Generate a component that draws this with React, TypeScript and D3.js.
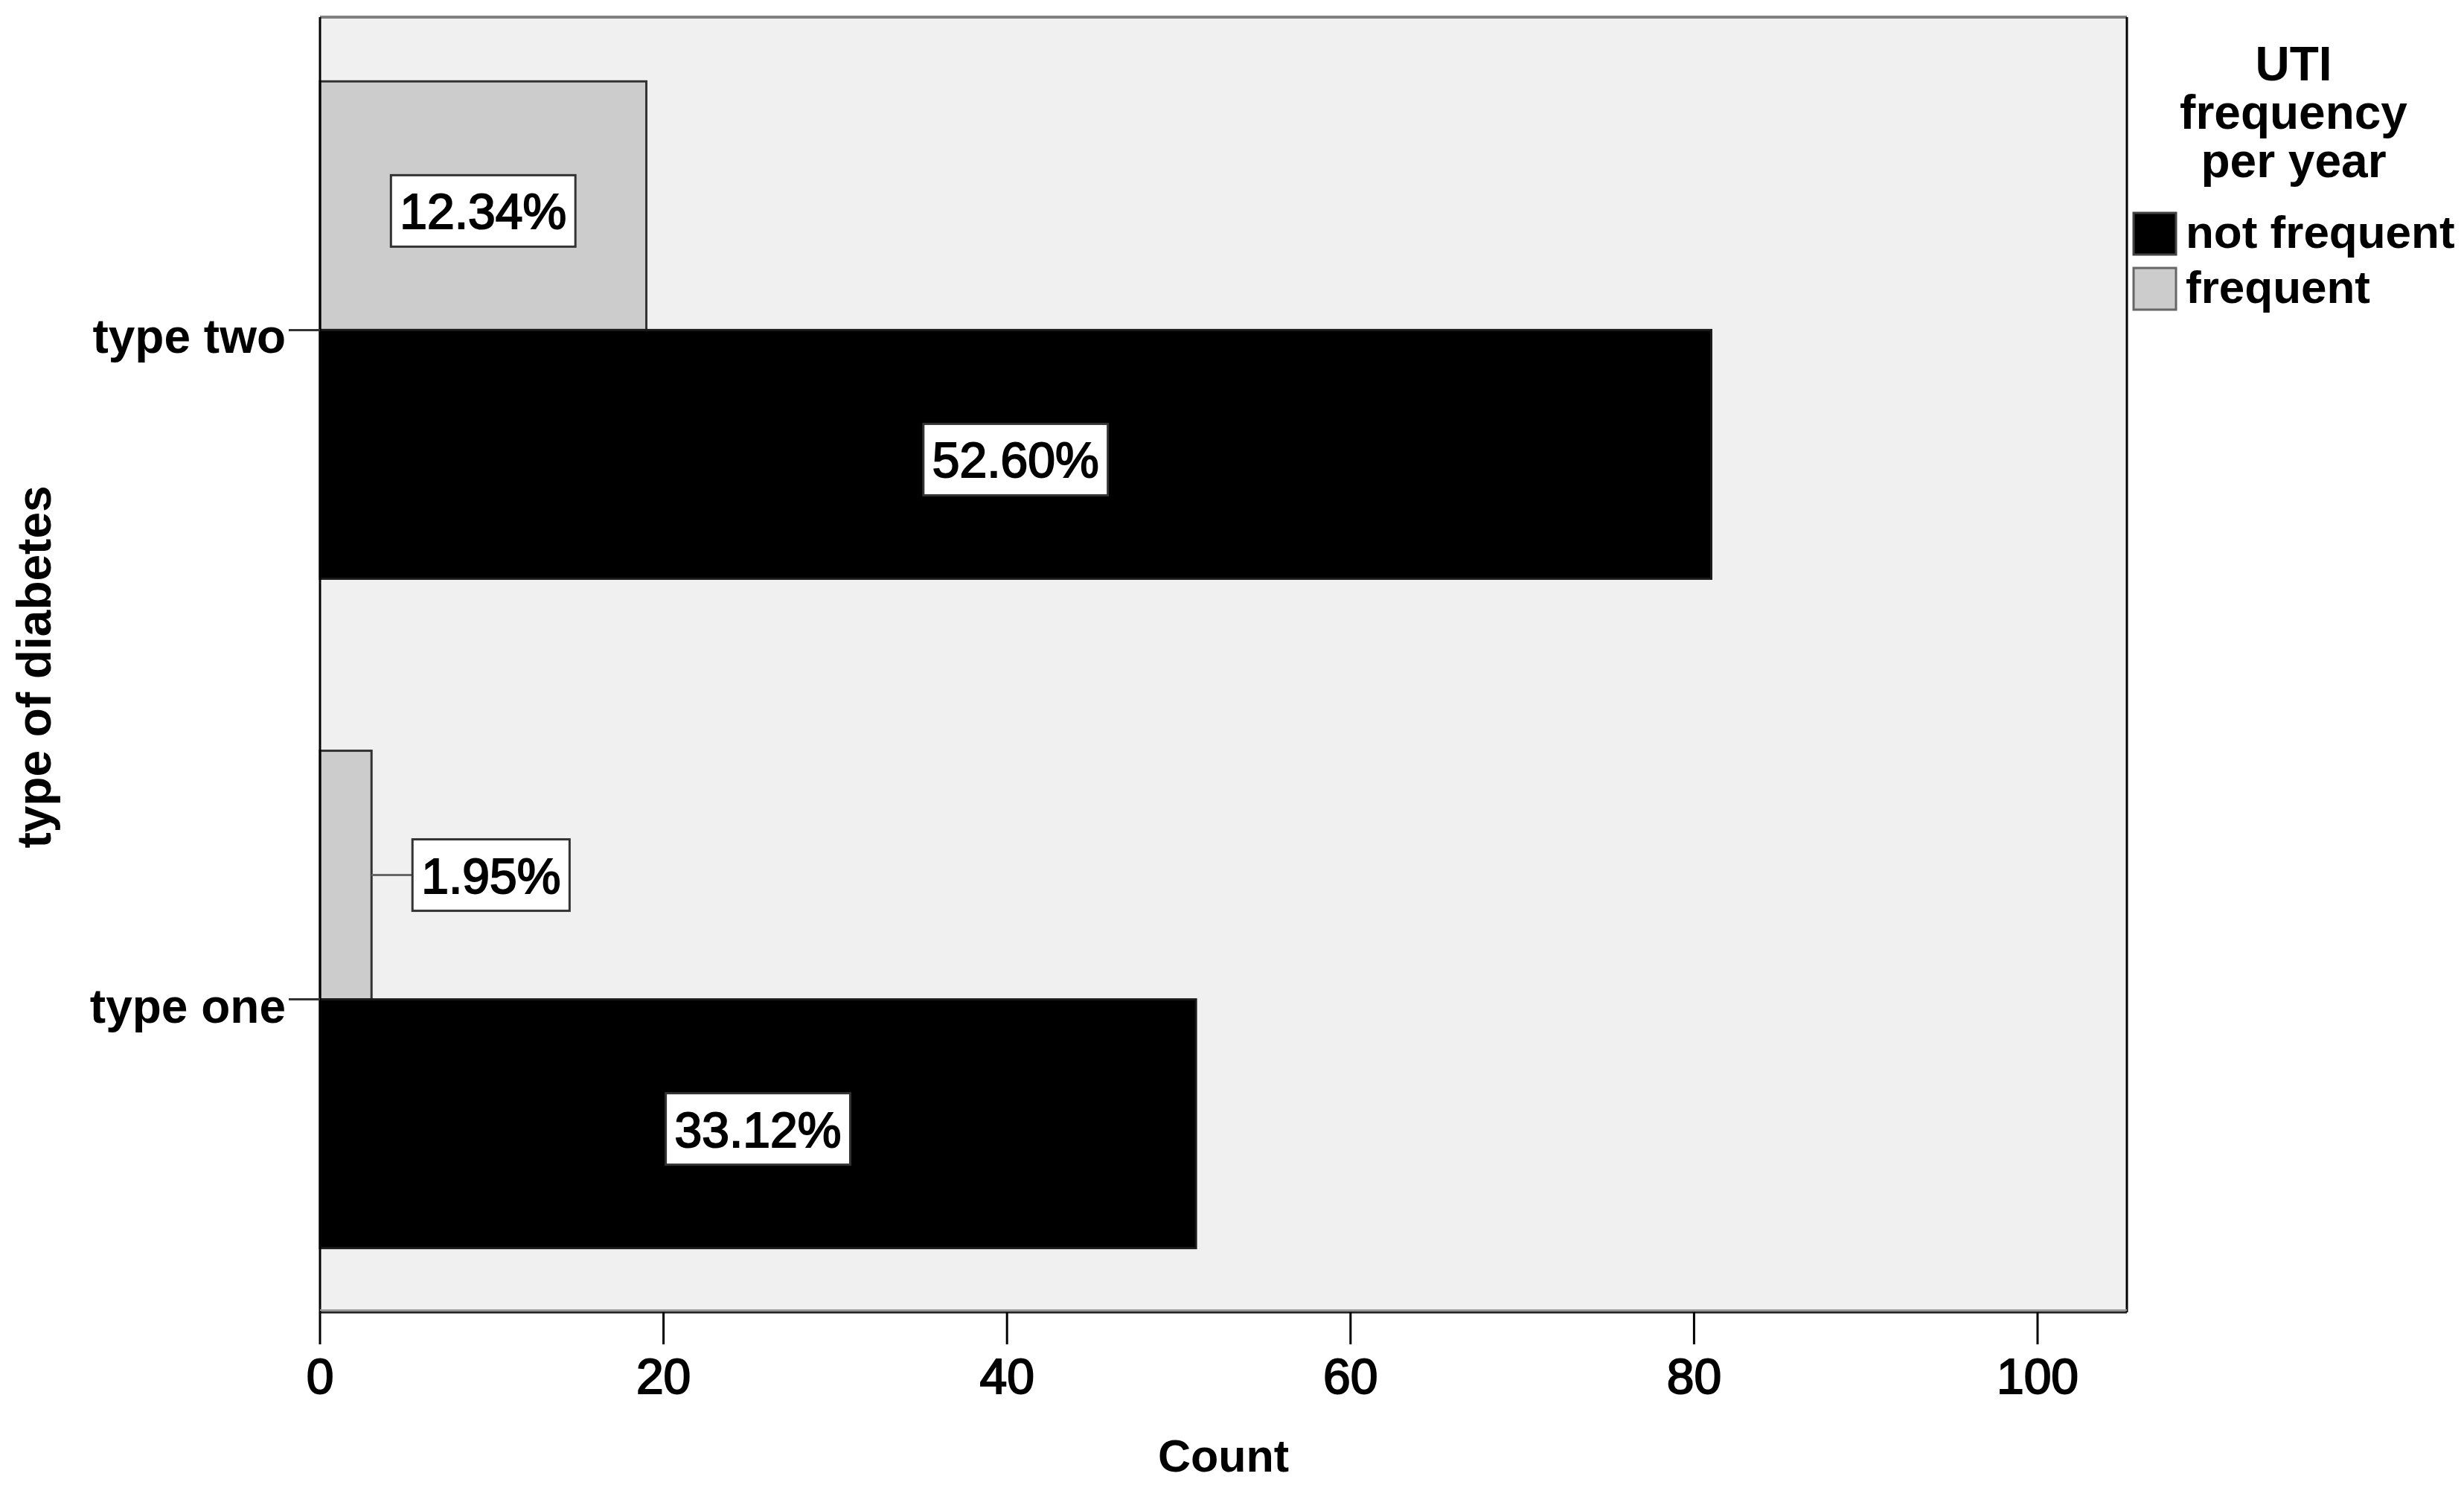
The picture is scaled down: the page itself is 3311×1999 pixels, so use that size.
import React, { useEffect, useRef } from 'react';
import * as d3 from 'd3';

const categories = ['type two', 'type one'];
const seriesNames = ['not frequent', 'frequent'];
const notFrequentCounts = [81, 51];
const frequentCounts = [19, 3];
const notFrequentLabels = ['52.60%', '33.12%'];
const frequentLabels = ['12.34%', '1.95%'];
const xTicks = [0, 20, 40, 60, 80, 100];
const legendTitle = ['UTI', 'frequency', 'per year'];

const FONT = '"Liberation Sans", Arial, sans-serif';
const seriesFill: Record<string, string> = { 'not frequent': '#000000', frequent: '#cccccc' };
const seriesStroke: Record<string, string> = { 'not frequent': '#1a1a1a', frequent: '#333333' };

const App = () => {
  const svgRef = useRef<SVGSVGElement>(null);
  const width = 3311;
  const height = 1999;
  const margin = { left: 430, right: 453, top: 23, bottom: 236 };

  useEffect(() => {
    const svg = d3.select(svgRef.current);
    svg.selectAll('*').remove();

    const x0 = margin.left;
    const x1 = width - margin.right;
    const y0 = margin.top;
    const y1 = height - margin.bottom;

    const xScale = d3.scaleLinear().domain([0, 105.2]).range([x0, x1]);
    const yScale = d3.scaleBand<string>()
      .domain(categories)
      .range([y0, y1])
      .paddingInner(0.257)
      .paddingOuter(0.096);
    // frequent (gray) sits above not frequent (black) inside each category
    const inner = d3.scaleBand<string>()
      .domain(['frequent', 'not frequent'])
      .range([0, yScale.bandwidth()]);

    // plot background
    svg.append('rect')
      .attr('x', x0).attr('y', y0)
      .attr('width', x1 - x0).attr('height', y1 - y0)
      .attr('fill', '#f0f0f0');

    const rows = categories.flatMap((c, i) => [
      { cat: c, series: 'frequent', value: frequentCounts[i], label: frequentLabels[i] },
      { cat: c, series: 'not frequent', value: notFrequentCounts[i], label: notFrequentLabels[i] },
    ]);

    svg.selectAll('rect.bar')
      .data(rows)
      .enter()
      .append('rect')
      .attr('class', 'bar')
      .attr('x', xScale(0))
      .attr('y', d => (yScale(d.cat) as number) + (inner(d.series) as number))
      .attr('width', d => xScale(d.value) - xScale(0))
      .attr('height', inner.bandwidth())
      .attr('fill', d => seriesFill[d.series])
      .attr('stroke', d => seriesStroke[d.series])
      .attr('stroke-width', 3);

    // frame
    svg.append('line').attr('x1', x0).attr('x2', x1).attr('y1', y0).attr('y2', y0)
      .attr('stroke', '#808080').attr('stroke-width', 4);
    svg.append('line').attr('x1', x1).attr('x2', x1).attr('y1', y0).attr('y2', y1)
      .attr('stroke', '#000').attr('stroke-width', 3);
    svg.append('line').attr('x1', x0).attr('x2', x0).attr('y1', y0).attr('y2', y1)
      .attr('stroke', '#000').attr('stroke-width', 3);
    svg.append('line').attr('x1', x0).attr('x2', x1).attr('y1', y1 - 3).attr('y2', y1 - 3)
      .attr('stroke', '#9a9a9a').attr('stroke-width', 2);
    svg.append('line').attr('x1', x0).attr('x2', x1).attr('y1', y1).attr('y2', y1)
      .attr('stroke', '#222').attr('stroke-width', 3);

    // value labels
    rows.forEach(d => {
      const barY = (yScale(d.cat) as number) + (inner(d.series) as number);
      const cy = barY + inner.bandwidth() / 2;
      const barEnd = xScale(d.value);
      const g = svg.append('g');
      const box = g.append('rect');
      const txt = g.append('text')
        .attr('font-family', FONT)
        .attr('font-size', 66)
        .attr('fill', '#000')
        .attr('stroke', '#000')
        .attr('stroke-width', 2)
        .attr('text-anchor', 'middle')
        .text(d.label);
      const tw = (txt.node() as SVGTextElement).getComputedTextLength();
      const bw = tw + 24;
      const bh = 96;
      const outside = barEnd - xScale(0) < bw + 20;
      const cx = outside ? barEnd + 55 + bw / 2 : (xScale(0) + barEnd) / 2;
      const by = outside ? cy : cy + 7;
      if (outside) {
        svg.insert('line', 'g')
          .attr('x1', barEnd).attr('x2', barEnd + 55)
          .attr('y1', cy).attr('y2', cy)
          .attr('stroke', '#666').attr('stroke-width', 3);
      }
      box.attr('x', cx - bw / 2).attr('y', by - bh / 2)
        .attr('width', bw).attr('height', bh)
        .attr('fill', '#fff').attr('stroke', '#333').attr('stroke-width', 3);
      txt.attr('x', cx).attr('y', by + 24);
    });

    // x axis ticks
    const xAxis = svg.append('g');
    xTicks.forEach(t => {
      xAxis.append('line')
        .attr('x1', xScale(t)).attr('x2', xScale(t))
        .attr('y1', y1).attr('y2', y1 + 43)
        .attr('stroke', '#000').attr('stroke-width', 3);
      xAxis.append('text')
        .attr('x', xScale(t)).attr('y', y1 + 109)
        .attr('text-anchor', 'middle')
        .attr('font-family', FONT).attr('font-size', 66)
        .attr('fill', '#000')
        .attr('stroke', '#000')
        .attr('stroke-width', 2)
        .text(t);
    });

    // y axis categories
    categories.forEach(c => {
      const cy = (yScale(c) as number) + yScale.bandwidth() / 2;
      svg.append('line')
        .attr('x1', x0 - 42).attr('x2', x0)
        .attr('y1', cy).attr('y2', cy)
        .attr('stroke', '#333').attr('stroke-width', 3);
      svg.append('text')
        .attr('x', x0 - 46).attr('y', cy + 31)
        .attr('text-anchor', 'end')
        .attr('font-family', FONT).attr('font-size', 64).attr('font-weight', 'bold')
        .attr('fill', '#000')
        .text(c);
    });

    // axis titles
    svg.append('text')
      .attr('x', (x0 + x1) / 2).attr('y', 1977)
      .attr('text-anchor', 'middle')
      .attr('font-family', FONT).attr('font-size', 61).attr('font-weight', 'bold')
      .text('Count');

    svg.append('text')
      .attr('transform', 'rotate(-90)')
      .attr('x', -896).attr('y', 68)
      .attr('text-anchor', 'middle')
      .attr('font-family', FONT).attr('font-size', 64).attr('font-weight', 'bold')
      .text('type of diabetes');

    // legend
    const legend = svg.append('g');
    legendTitle.forEach((line, i) => {
      legend.append('text')
        .attr('x', 3082).attr('y', 108 + i * 65)
        .attr('text-anchor', 'middle')
        .attr('font-family', FONT).attr('font-size', 64).attr('font-weight', 'bold')
        .text(line);
    });
    seriesNames.forEach((s, i) => {
      const top = 286 + i * 74;
      legend.append('rect')
        .attr('x', 2867).attr('y', top)
        .attr('width', 57).attr('height', 56)
        .attr('fill', seriesFill[s])
        .attr('stroke', s === 'frequent' ? '#666' : '#444')
        .attr('stroke-width', 3);
      legend.append('text')
        .attr('x', 2937).attr('y', top + 47)
        .attr('font-family', FONT).attr('font-size', 62).attr('font-weight', 'bold')
        .text(s);
    });
  }, []);

  return (
    <svg
      ref={svgRef}
      width={width}
      height={height}
      style={{ position: 'absolute', left: 0, top: 0, background: '#fff' }}
    ></svg>
  );
};

export default App;
